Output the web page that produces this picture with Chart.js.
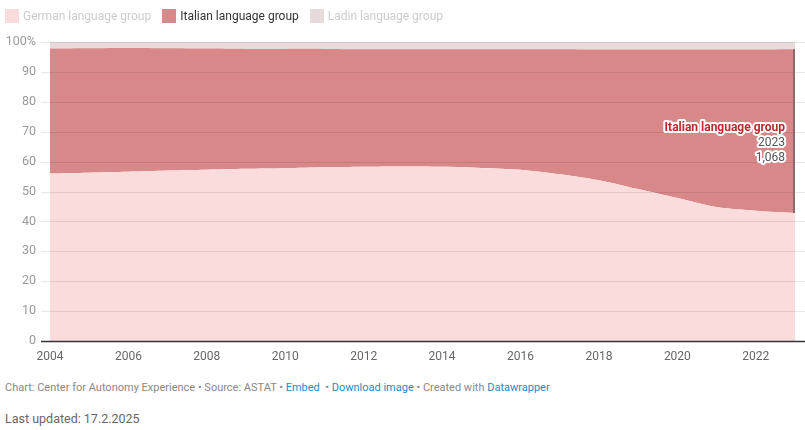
<!DOCTYPE html>
<html><head><meta charset="utf-8">
<script src="https://cdn.jsdelivr.net/npm/chart.js@4"></script>
<style>
html,body{margin:0;padding:0;background:#fff;width:805px;height:430px;overflow:hidden;font-family:Roboto,"Noto Sans",sans-serif;}
#legend{position:absolute;left:5px;top:9px;font-size:12px;display:flex;gap:0;}
.li{display:flex;align-items:center;margin-right:11px;}
.sw{width:14px;height:14px;margin-right:4px;}
#wrap{position:absolute;left:0;top:0;width:805px;height:366px;}
#foot{position:absolute;left:5px;top:381px;font-size:11px;color:#888;}
#foot a{color:#1d8bc9;text-decoration:none;}
#upd{position:absolute;left:5px;top:411px;font-size:12.5px;color:#666;}
</style></head><body>
<div id="wrap"><canvas id="c"></canvas></div>
<div id="legend"></div>
<div id="foot">Chart: Center for Autonomy Experience • Source: ASTAT • <a>Embed</a> &nbsp;• <a>Download image</a> • Created with <a>Datawrapper</a></div>
<div id="upd">Last updated: 17.2.2025</div>
<script>
const years = [2004,2005,2006,2007,2008,2009,2010,2011,2012,2013,2014,2015,2016,2017,2018,2019,2020,2021,2022,2023];
const german = [56.0,56.3,56.6,57.0,57.3,57.6,57.8,58.1,58.3,58.4,58.3,57.9,57.3,55.8,53.8,50.8,47.8,44.8,43.6,42.8];
const ladin  = [2.2,2.1,2.0,2.1,2.2,2.3,2.3,2.3,2.4,2.4,2.4,2.4,2.4,2.4,2.5,2.5,2.5,2.5,2.5,2.4];
const italian = years.map((y,i)=>+(100-german[i]-ladin[i]).toFixed(1));
const yTicks = [0,10,20,30,40,50,60,70,80,90,100];
const xTicks = [2004,2006,2008,2010,2012,2014,2016,2018,2020,2022];
const seriesNames = ["German language group","Italian language group","Ladin language group"];
const seriesColors = ["#fbdcdc","#d88888","#e7dada"];
const legendText = ["#cccccc","#333333","#cccccc"];
const annoYear = 2023, annoValue = "1,068";

const lg = document.getElementById('legend');
seriesNames.forEach((n,i)=>{
  const d=document.createElement('div');d.className='li';
  d.innerHTML='<div class="sw" style="background:'+seriesColors[i]+'"></div><span style="color:'+legendText[i]+'">'+n+'</span>';
  lg.appendChild(d);
});

const gridPlugin = {
  id:'grid',
  afterDatasetsDraw(chart){
    const {ctx, chartArea:a, scales:{x,y}} = chart;
    ctx.save();
    yTicks.forEach(t=>{
      const py = Math.round(y.getPixelForValue(t))+0.5;
      ctx.beginPath();
      if(t===0){ctx.strokeStyle='#333';ctx.lineWidth=1.5;}
      else {ctx.strokeStyle='rgba(0,0,0,0.09)';ctx.lineWidth=1;}
      ctx.moveTo(a.left-9,py);ctx.lineTo(chart.width,py);ctx.stroke();
    });
    const i = years.indexOf(annoYear);
    const px = x.getPixelForValue(annoYear)-1;
    ctx.beginPath();ctx.strokeStyle='#8a6a6a';ctx.lineWidth=2;
    ctx.moveTo(px,y.getPixelForValue(german[i]+italian[i]));ctx.lineTo(px,y.getPixelForValue(german[i]));ctx.stroke();
    const tx = px-9, ty = y.getPixelForValue(german[i]+italian[i]/2)+12;
    const lines=[["Italian language group","bold 12px Roboto","#c0282c"],[String(annoYear),"12px Roboto","#555"],[annoValue,"12px Roboto","#555"]];
    ctx.textAlign='right';ctx.textBaseline='middle';ctx.lineJoin='round';
    lines.forEach((l,k)=>{
      ctx.font=l[1];
      const yy = ty-15+k*15;
      ctx.strokeStyle='#fff';ctx.lineWidth=4;ctx.strokeText(l[0],tx,yy);
      ctx.fillStyle=l[2];ctx.fillText(l[0],tx,yy);
    });
    ctx.restore();
  }
};

new Chart(document.getElementById('c'),{
  type:'line',
  data:{labels:years,datasets:[
    {label:seriesNames[0],data:years.map((y,i)=>({x:y,y:german[i]})),backgroundColor:seriesColors[0],fill:'origin',borderWidth:0,pointRadius:0,tension:0.3},
    {label:seriesNames[1],data:years.map((y,i)=>({x:y,y:italian[i]})),backgroundColor:seriesColors[1],fill:'-1',borderWidth:0,pointRadius:0,tension:0.3},
    {label:seriesNames[2],data:years.map((y,i)=>({x:y,y:ladin[i]})),backgroundColor:seriesColors[2],fill:'-1',borderWidth:0,pointRadius:0,tension:0.3}
  ]},
  options:{
    responsive:true,maintainAspectRatio:false,animation:false,
    layout:{padding:{top:42,right:10,left:0,bottom:0}},
    plugins:{legend:{display:false},tooltip:{enabled:false}},
    scales:{
      x:{type:'linear',min:2004,max:2023,
        afterFit(s){s.height=25;},
        afterBuildTicks(s){s.ticks=xTicks.map(v=>({value:v}));},
        grid:{display:false},border:{display:false},
        ticks:{color:'#666',font:{family:'Roboto',size:12},padding:1,maxRotation:0,autoSkip:false,callback:v=>String(v)}},
      y:{stacked:true,min:0,max:100,
        afterFit(s){s.width=50;},
        afterBuildTicks(s){s.ticks=yTicks.map(v=>({value:v}));},
        grid:{display:false},border:{display:false},
        ticks:{color:'#999',font:{family:'Roboto',size:12.5},padding:6,callback:v=>v===100?'100%':String(v)}}
    }
  },
  plugins:[gridPlugin]
});
</script>
</body></html>
